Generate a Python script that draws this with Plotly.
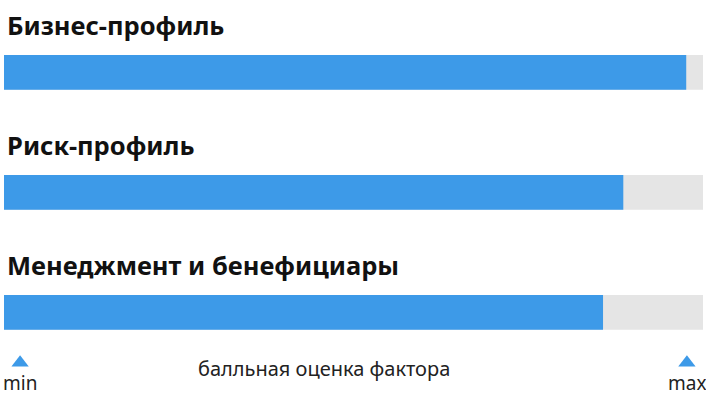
import plotly.graph_objects as go

# оценки факторов (доля от максимума)
factors = ["Бизнес-профиль", "Риск-профиль", "Менеджмент и бенефициары"]
scores = [0.976, 0.886, 0.857]
max_score = [1.0, 1.0, 1.0]
scale_ends = ["min", "max"]
scale_caption = "балльная оценка фактора"

BLUE = "#3d9ae8"
GRAY = "#e5e5e5"
pos = list(range(len(factors)))

fig = go.Figure()
fig.add_trace(go.Bar(
    x=max_score, y=pos, orientation="h", width=0.29,
    marker=dict(color=GRAY, line_width=0), hoverinfo="skip",
))
fig.add_trace(go.Bar(
    x=scores, y=pos, orientation="h", width=0.29,
    marker=dict(color=BLUE, line_width=0),
    customdata=factors, hovertemplate="%{customdata}: %{x}<extra></extra>",
))
# маркеры шкалы min / max
fig.add_trace(go.Scatter(
    x=[0.023, 0.977], y=[2.42, 2.42], mode="markers",
    marker=dict(symbol="triangle-up", size=15, color=BLUE),
    cliponaxis=False, hoverinfo="skip",
))

for i, name in enumerate(factors):
    fig.add_annotation(
        x=0, xref="paper", xanchor="left", y=i, yref="y", yanchor="middle",
        yshift=47, xshift=1, text=f"<b>{name}</b>", showarrow=False,
        font=dict(family="Noto Sans", size=25.5, color="#111111"),
    )

for xv, label in zip([0.023, 0.977], scale_ends):
    fig.add_annotation(
        x=xv, xref="x", y=2.59, yref="y", text=label, showarrow=False,
        font=dict(family="Noto Sans", size=19, color="#222222"),
    )
fig.add_annotation(
    x=0.458, xref="x", y=2.465, yref="y", text=scale_caption, showarrow=False,
    font=dict(family="Noto Sans", size=20, color="#222222"),
)

fig.update_layout(
    width=706, height=401, barmode="overlay", showlegend=False,
    margin=dict(l=4, r=3, t=0, b=0),
    paper_bgcolor="white", plot_bgcolor="white",
)
fig.update_xaxes(range=[0, 1], visible=False, fixedrange=True)
fig.update_yaxes(range=[2.738, -0.604], visible=False, fixedrange=True)
fig.write_html("out.html", config={"displayModeBar": False},
               post_script="document.body.style.margin='0';")
